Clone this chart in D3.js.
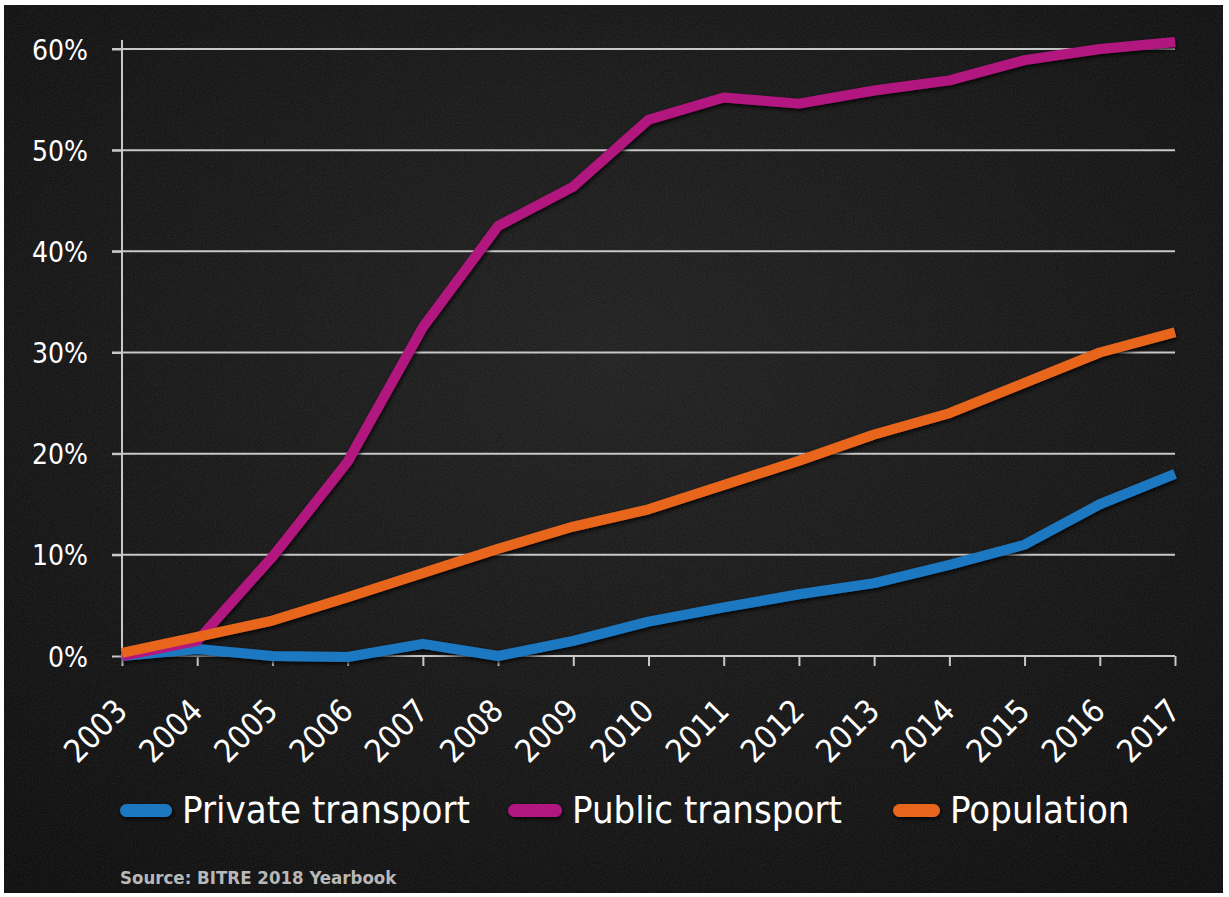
<!DOCTYPE html>
<html><head><meta charset="utf-8">
<script src="https://cdn.jsdelivr.net/npm/d3@7"></script>
<style>html,body{margin:0;padding:0;background:#fff;}svg{display:block;}</style>
</head><body>
<script>
const years = [2003,2004,2005,2006,2007,2008,2009,2010,2011,2012,2013,2014,2015,2016,2017];
const privateTransport = [0,0.7,0,-0.1,1.2,0,1.5,3.4,4.8,6.1,7.2,9,11,15,18];
const publicTransport = [0,1.5,9.8,19.2,32.5,42.5,46.4,53,55.2,54.6,55.9,56.9,58.9,60,60.7];
const population = [0.3,1.9,3.5,5.8,8.2,10.6,12.8,14.5,16.9,19.3,21.9,24,27,30,32];
const yTicks = [0,10,20,30,40,50,60];
const seriesNames = ["Private transport","Public transport","Population"];
const seriesColors = ["#1f78c1","#b2177f","#e8661f"];

const W=1229,H=897;
const FONT="DejaVu Sans Condensed, DejaVu Sans";
const svg=d3.select("body").append("svg").attr("width",W).attr("height",H);
const defs=svg.append("defs");
const rg=defs.append("radialGradient").attr("id","bg").attr("cx","50%").attr("cy","40%").attr("r","75%");
rg.append("stop").attr("offset","0%").attr("stop-color","#222");
rg.append("stop").attr("offset","100%").attr("stop-color","#0f0f0f");
const f=defs.append("filter").attr("id","noise").attr("x",0).attr("y",0).attr("width","100%").attr("height","100%");
f.append("feTurbulence").attr("type","fractalNoise").attr("baseFrequency","0.9").attr("numOctaves",2).attr("result","n");
f.append("feColorMatrix").attr("type","matrix").attr("values","0 0 0 0 0.5  0 0 0 0 0.5  0 0 0 0 0.5  0 0 0 0.5 -0.15");
const sh=defs.append("filter").attr("id","shadow").attr("filterUnits","userSpaceOnUse").attr("x",0).attr("y",0).attr("width",W).attr("height",H);
sh.append("feDropShadow").attr("dx",1).attr("dy",2).attr("stdDeviation",2).attr("flood-color","#000").attr("flood-opacity",0.9);

svg.append("rect").attr("x",4).attr("y",5).attr("width",1219).attr("height",888).attr("fill","url(#bg)");
svg.append("rect").attr("x",4).attr("y",5).attr("width",1219).attr("height",888).attr("filter","url(#noise)").attr("opacity",0.35);

const x=d3.scalePoint().domain(years).range([122,1175]);
const y=d3.scaleLinear().domain([0,60]).range([656,49]);

// gridlines
const g=svg.append("g");
g.selectAll("line.grid").data(yTicks.filter(d=>d>0)).join("line")
 .attr("x1",112).attr("x2",1175).attr("y1",d=>y(d)).attr("y2",d=>y(d))
 .attr("stroke","#c8c8c8").attr("stroke-width",2);

// y axis
const yAxis=d3.axisLeft(y).tickValues(yTicks).tickFormat(d=>d+"%").tickSize(10).tickPadding(24);
const ya=svg.append("g").attr("transform","translate(122,0)").call(yAxis);
ya.select(".domain").attr("stroke","#c8c8c8").attr("stroke-width",2).attr("d","M0,40V656");
ya.selectAll(".tick line").attr("stroke","#c8c8c8").attr("stroke-width",2);
ya.selectAll(".tick text").attr("fill","#fff").attr("font-family",FONT).attr("font-size",28).attr("dy","0.36em");

// x axis
const xAxis=d3.axisBottom(x).tickSize(10).tickPadding(8);
const xa=svg.append("g").attr("transform","translate(0,656)").call(xAxis);
xa.select(".domain").attr("stroke","#c8c8c8").attr("stroke-width",2).attr("d","M122,0H1175");
xa.selectAll(".tick line").attr("stroke","#c8c8c8").attr("stroke-width",2);
xa.selectAll(".tick text").attr("fill","#fff").attr("font-family",FONT).attr("font-size",32)
 .attr("text-anchor","end").attr("dy",0).attr("transform","translate(-6,44) rotate(-45)");

// lines
const line=d3.line().x((d,i)=>x(years[i])).y(d=>y(d));
const data=[privateTransport,publicTransport,population];
const lg=svg.append("g").attr("filter","url(#shadow)");
data.forEach((s,i)=>{
  lg.append("path").attr("d",line(s)).attr("fill","none").attr("stroke",seriesColors[i])
   .attr("stroke-width",10).attr("stroke-linejoin","round").attr("stroke-linecap","butt");
});

// legend
const legendX=[[120,172,182],[508,562,572],[893,940,950]];
const leg=svg.append("g");
seriesNames.forEach((n,i)=>{
  leg.append("rect").attr("x",legendX[i][0]).attr("width",legendX[i][1]-legendX[i][0]).attr("y",804).attr("height",13).attr("rx",6.5)
   .attr("fill",seriesColors[i]).attr("filter","url(#shadow)");
  leg.append("text").attr("x",legendX[i][2]).attr("y",823).text(n).attr("fill","#fff")
   .attr("font-family",FONT).attr("font-size",38);
});
svg.append("text").attr("x",120).attr("y",884).text("Source: BITRE 2018 Yearbook").attr("fill","#b8b8b8")
 .attr("font-family",FONT).attr("font-size",18.5).attr("font-weight","bold");
</script>
</body></html>
